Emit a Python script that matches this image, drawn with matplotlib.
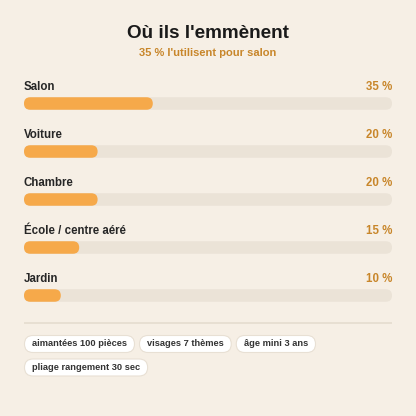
import matplotlib
matplotlib.use("Agg")
import matplotlib.pyplot as plt
from matplotlib.patches import FancyBboxPatch

# data
categories = ["Salon", "Voiture", "Chambre", "École / centre aéré", "Jardin"]
values = [35, 20, 20, 15, 10]
value_labels = ["35 %", "20 %", "20 %", "15 %", "10 %"]
chips = ["aimantées 100 pièces", "visages 7 thèmes", "âge mini 3 ans", "pliage rangement 30 sec"]
title = "Où ils l'emmènent"
subtitle = "35 % l'utilisent pour salon"

BG = "#f6efe5"
ORANGE = "#f6a94a"
TRACK = "#ebe3d7"
VAL_COL = "#c8862a"
TXT = "#262626"

plt.rcParams['font.family'] = ['Liberation Sans', 'DejaVu Sans']

W = H = 416
fig = plt.figure(figsize=(W / 100, H / 100), dpi=100)
fig.patch.set_facecolor(BG)

# overlay axes in pixel units
ov = fig.add_axes([0, 0, 1, 1])
ov.set_xlim(0, W)
ov.set_ylim(H, 0)
ov.axis("off")

ov.text(W / 2, 33.5, title, ha="center", va="center", fontsize=13.6,
        fontweight="bold", color="#1a1a1a")
ov.text(W / 2, 53.5, subtitle, ha="center", va="center", fontsize=8.0,
        fontweight="bold", color=VAL_COL)

# bar axes: x in percent, y in pixels
left, right = 24, 392
tw = right - left
ax = fig.add_axes([left / W, 0, tw / W, 1])
ax.set_xlim(0, 100)
ax.set_ylim(H, 0)
ax.axis("off")
ax.patch.set_alpha(0)

sx = tw / 100.0  # px per percent unit
bar_h = 12.5
row0, step = 86.5, 48
for i, (cat, v, lab) in enumerate(zip(categories, values, value_labels)):
    ly = row0 + i * step
    by = ly + 17
    ax.text(0, ly, cat, ha="left", va="center", fontsize=8.3,
            fontweight="bold", color=TXT)
    ax.text(100, ly, lab, ha="right", va="center", fontsize=8.3,
            fontweight="bold", color=VAL_COL)
    r = bar_h / 2 / sx
    track = FancyBboxPatch((0, by - bar_h / 2), 100, bar_h,
                           boxstyle=f"round,pad=0,rounding_size={r}",
                           mutation_aspect=sx, fc=TRACK, ec="none")
    ax.add_patch(track)
    bar = FancyBboxPatch((0, by - bar_h / 2), v, bar_h,
                         boxstyle=f"round,pad=0,rounding_size={r}",
                         mutation_aspect=sx, fc=ORANGE, ec="none")
    ax.add_patch(bar)

# divider
ov.plot([left, right], [322.5, 322.5], color="#e5dccf", lw=1.2,
        solid_capstyle="butt")

# chips
fig.canvas.draw()
renderer = fig.canvas.get_renderer()
x, y = left + 0.5, 344
chip_h, padx, gap = 17, 7.5, 5
for c in chips:
    t = ov.text(0, y, c, ha="left", va="center", fontsize=6.7,
                fontweight="bold", color="#333333")
    bb = t.get_window_extent(renderer)
    cw = bb.width + 2 * padx
    if x + cw > right:
        x = left + 0.5
        y += 23.5
    t.set_position((x + padx, y))
    chip = FancyBboxPatch((x, y - chip_h / 2), cw, chip_h,
                          boxstyle=f"round,pad=0,rounding_size={chip_h / 2}",
                          fc="white", ec="#e8e0d4", lw=0.8, zorder=1)
    ov.add_patch(chip)
    t.set_zorder(2)
    x += cw + gap

fig.savefig("out.png", dpi=100, facecolor=BG)
